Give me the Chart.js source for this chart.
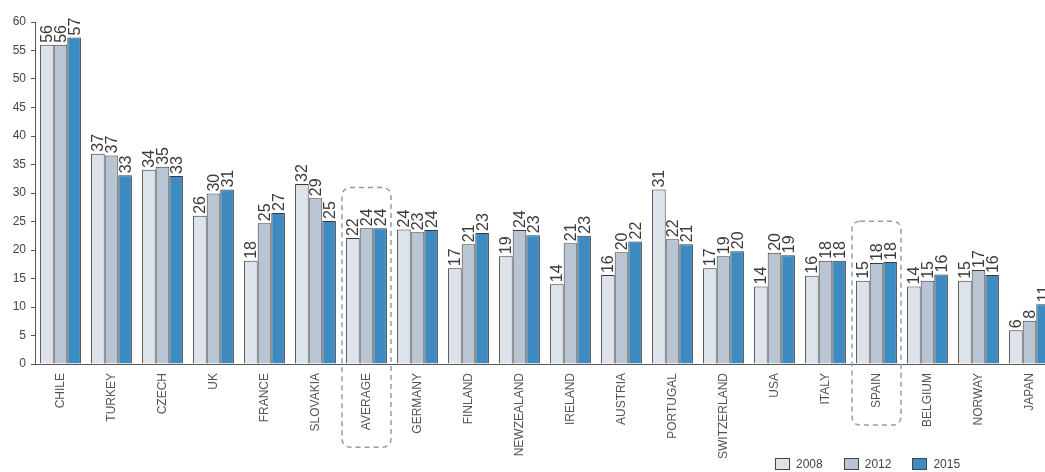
<!DOCTYPE html>
<html>
<head>
<meta charset="utf-8">
<script src="https://cdn.jsdelivr.net/npm/chart.js@4.4.1/dist/chart.umd.min.js"></script>
<style>
  html, body { margin: 0; padding: 0; background: #fff; overflow: hidden; }
  #wrap { position: relative; width: 1060px; height: 472px; }
  #legend { position: absolute; left: 775px; top: 457px; display: flex; font: 12px "Liberation Sans", Arial, sans-serif; color: #444; }
  #legend .item { display: flex; align-items: center; margin-right: 21px; }
  #legend .box { width: 15px; height: 12px; border: 1px solid #444; margin-right: 6px; box-sizing: border-box; }
</style>
</head>
<body>
<div id="wrap">
  <canvas id="chart"></canvas>
  <div id="legend"></div>
</div>
<script>
const categories = ['CHILE', 'TURKEY', 'CZECH', 'UK', 'FRANCE', 'SLOVAKIA', 'AVERAGE', 'GERMANY', 'FINLAND',
  'NEWZEALAND', 'IRELAND', 'AUSTRIA', 'PORTUGAL', 'SWITZERLAND', 'USA', 'ITALY', 'SPAIN', 'BELGIUM', 'NORWAY', 'JAPAN'];
const years = ['2008', '2012', '2015'];
const values2008 = [56.0, 36.9, 34.1, 26.0, 18.1, 31.6, 22.1, 23.6, 16.8, 18.9, 14.0, 15.6, 30.6, 16.8, 13.6, 15.5, 14.6, 13.6, 14.6, 5.9];
const values2012 = [56.0, 36.6, 34.6, 29.9, 24.7, 29.1, 23.8, 23.1, 21.0, 23.5, 21.2, 19.6, 21.9, 18.9, 19.5, 18.1, 17.7, 14.6, 16.5, 7.6];
const values2015 = [57.3, 33.1, 33.0, 30.6, 26.5, 25.1, 23.8, 23.5, 23.0, 22.6, 22.5, 21.5, 21.0, 19.8, 19.1, 18.1, 17.9, 15.7, 15.6, 10.5];
const yTicks = [0, 5, 10, 15, 20, 25, 30, 35, 40, 45, 50, 55, 60];
const highlighted = ['AVERAGE', 'SPAIN'];

const colors = ['#dde3ea', '#bac5d3', '#3d8bc0'];
const seriesValues = [values2008, values2012, values2015];

// Rotated value labels above each bar
const valueLabels = {
  id: 'valueLabels',
  afterDatasetsDraw(chart) {
    const ctx = chart.ctx;
    ctx.save();
    ctx.font = '16px "Liberation Sans", Arial, sans-serif';
    ctx.fillStyle = '#3a3a3a';
    ctx.textAlign = 'left';
    ctx.textBaseline = 'middle';
    chart.data.datasets.forEach((ds, di) => {
      chart.getDatasetMeta(di).data.forEach((bar, i) => {
        ctx.save();
        ctx.translate(bar.x, bar.y - 2);
        ctx.rotate(-Math.PI / 2);
        ctx.fillText(String(Math.round(ds.data[i])), 0, 1);
        ctx.restore();
      });
    });
    ctx.restore();
  }
};

// Dashed rounded boxes around highlighted categories
const highlightBoxes = {
  id: 'highlightBoxes',
  afterDraw(chart) {
    const ctx = chart.ctx;
    const xs = chart.scales.x, ys = chart.scales.y;
    const step = xs.width / categories.length;
    ctx.save();
    ctx.strokeStyle = '#8d9cb5';
    ctx.lineWidth = 1.5;
    ctx.setLineDash([5, 4]);
    highlighted.forEach(name => {
      const i = categories.indexOf(name);
      const xc = xs.getPixelForValue(i);
      const maxV = Math.max(...seriesValues.map(s => s[i]));
      ctx.font = '16px "Liberation Sans", Arial, sans-serif';
      const lblW = ctx.measureText(String(Math.round(maxV))).width;
      const top = ys.getPixelForValue(maxV) - 2 - lblW - 21;
      ctx.font = '12px "Liberation Sans", Arial, sans-serif';
      const tickW = ctx.measureText(name).width;
      const bottom = xs.top + 9 + tickW + 17;
      const left = xc - step / 2 + 1, right = xc + step / 2 - 1;
      ctx.beginPath();
      ctx.roundRect(left, top, right - left, bottom - top, 8);
      ctx.stroke();
    });
    ctx.restore();
  }
};

new Chart(document.getElementById('chart'), {
  type: 'bar',
  data: {
    labels: categories,
    datasets: years.map((y, k) => ({
      label: y,
      data: seriesValues[k],
      backgroundColor: colors[k],
      borderColor: '#3a3a3a',
      borderWidth: 1,
      categoryPercentage: 0.8,
      barPercentage: 1.0
    }))
  },
  options: {
    responsive: true,
    maintainAspectRatio: false,
    animation: false,
    layout: { padding: { top: 22, right: 5, left: 0, bottom: 0 } },
    plugins: { legend: { display: false }, tooltip: { enabled: false } },
    scales: {
      x: {
        grid: { display: false },
        border: { display: true, color: '#555' },
        ticks: {
          autoSkip: false, maxRotation: 90, minRotation: 90, padding: 1,
          color: '#555', font: { size: 12, family: '"Liberation Sans", Arial, sans-serif' }
        },
        afterFit: s => { s.height = 108; }
      },
      y: {
        min: 0, max: 60,
        afterBuildTicks: s => { s.ticks = yTicks.map(v => ({ value: v })); },
        grid: { display: true, drawOnChartArea: false, drawTicks: true, tickLength: 4, color: '#555' },
        border: { display: true, color: '#555' },
        ticks: { padding: 5, color: '#444', font: { size: 12, family: '"Liberation Sans", Arial, sans-serif' } },
        afterFit: s => { s.width = 35; }
      }
    }
  },
  plugins: [valueLabels, highlightBoxes]
});

// HTML legend
const legend = document.getElementById('legend');
years.forEach((y, k) => {
  const item = document.createElement('div');
  item.className = 'item';
  item.innerHTML = `<span class="box" style="background:${colors[k]}"></span><span>${y}</span>`;
  legend.appendChild(item);
});
</script>
</body>
</html>
